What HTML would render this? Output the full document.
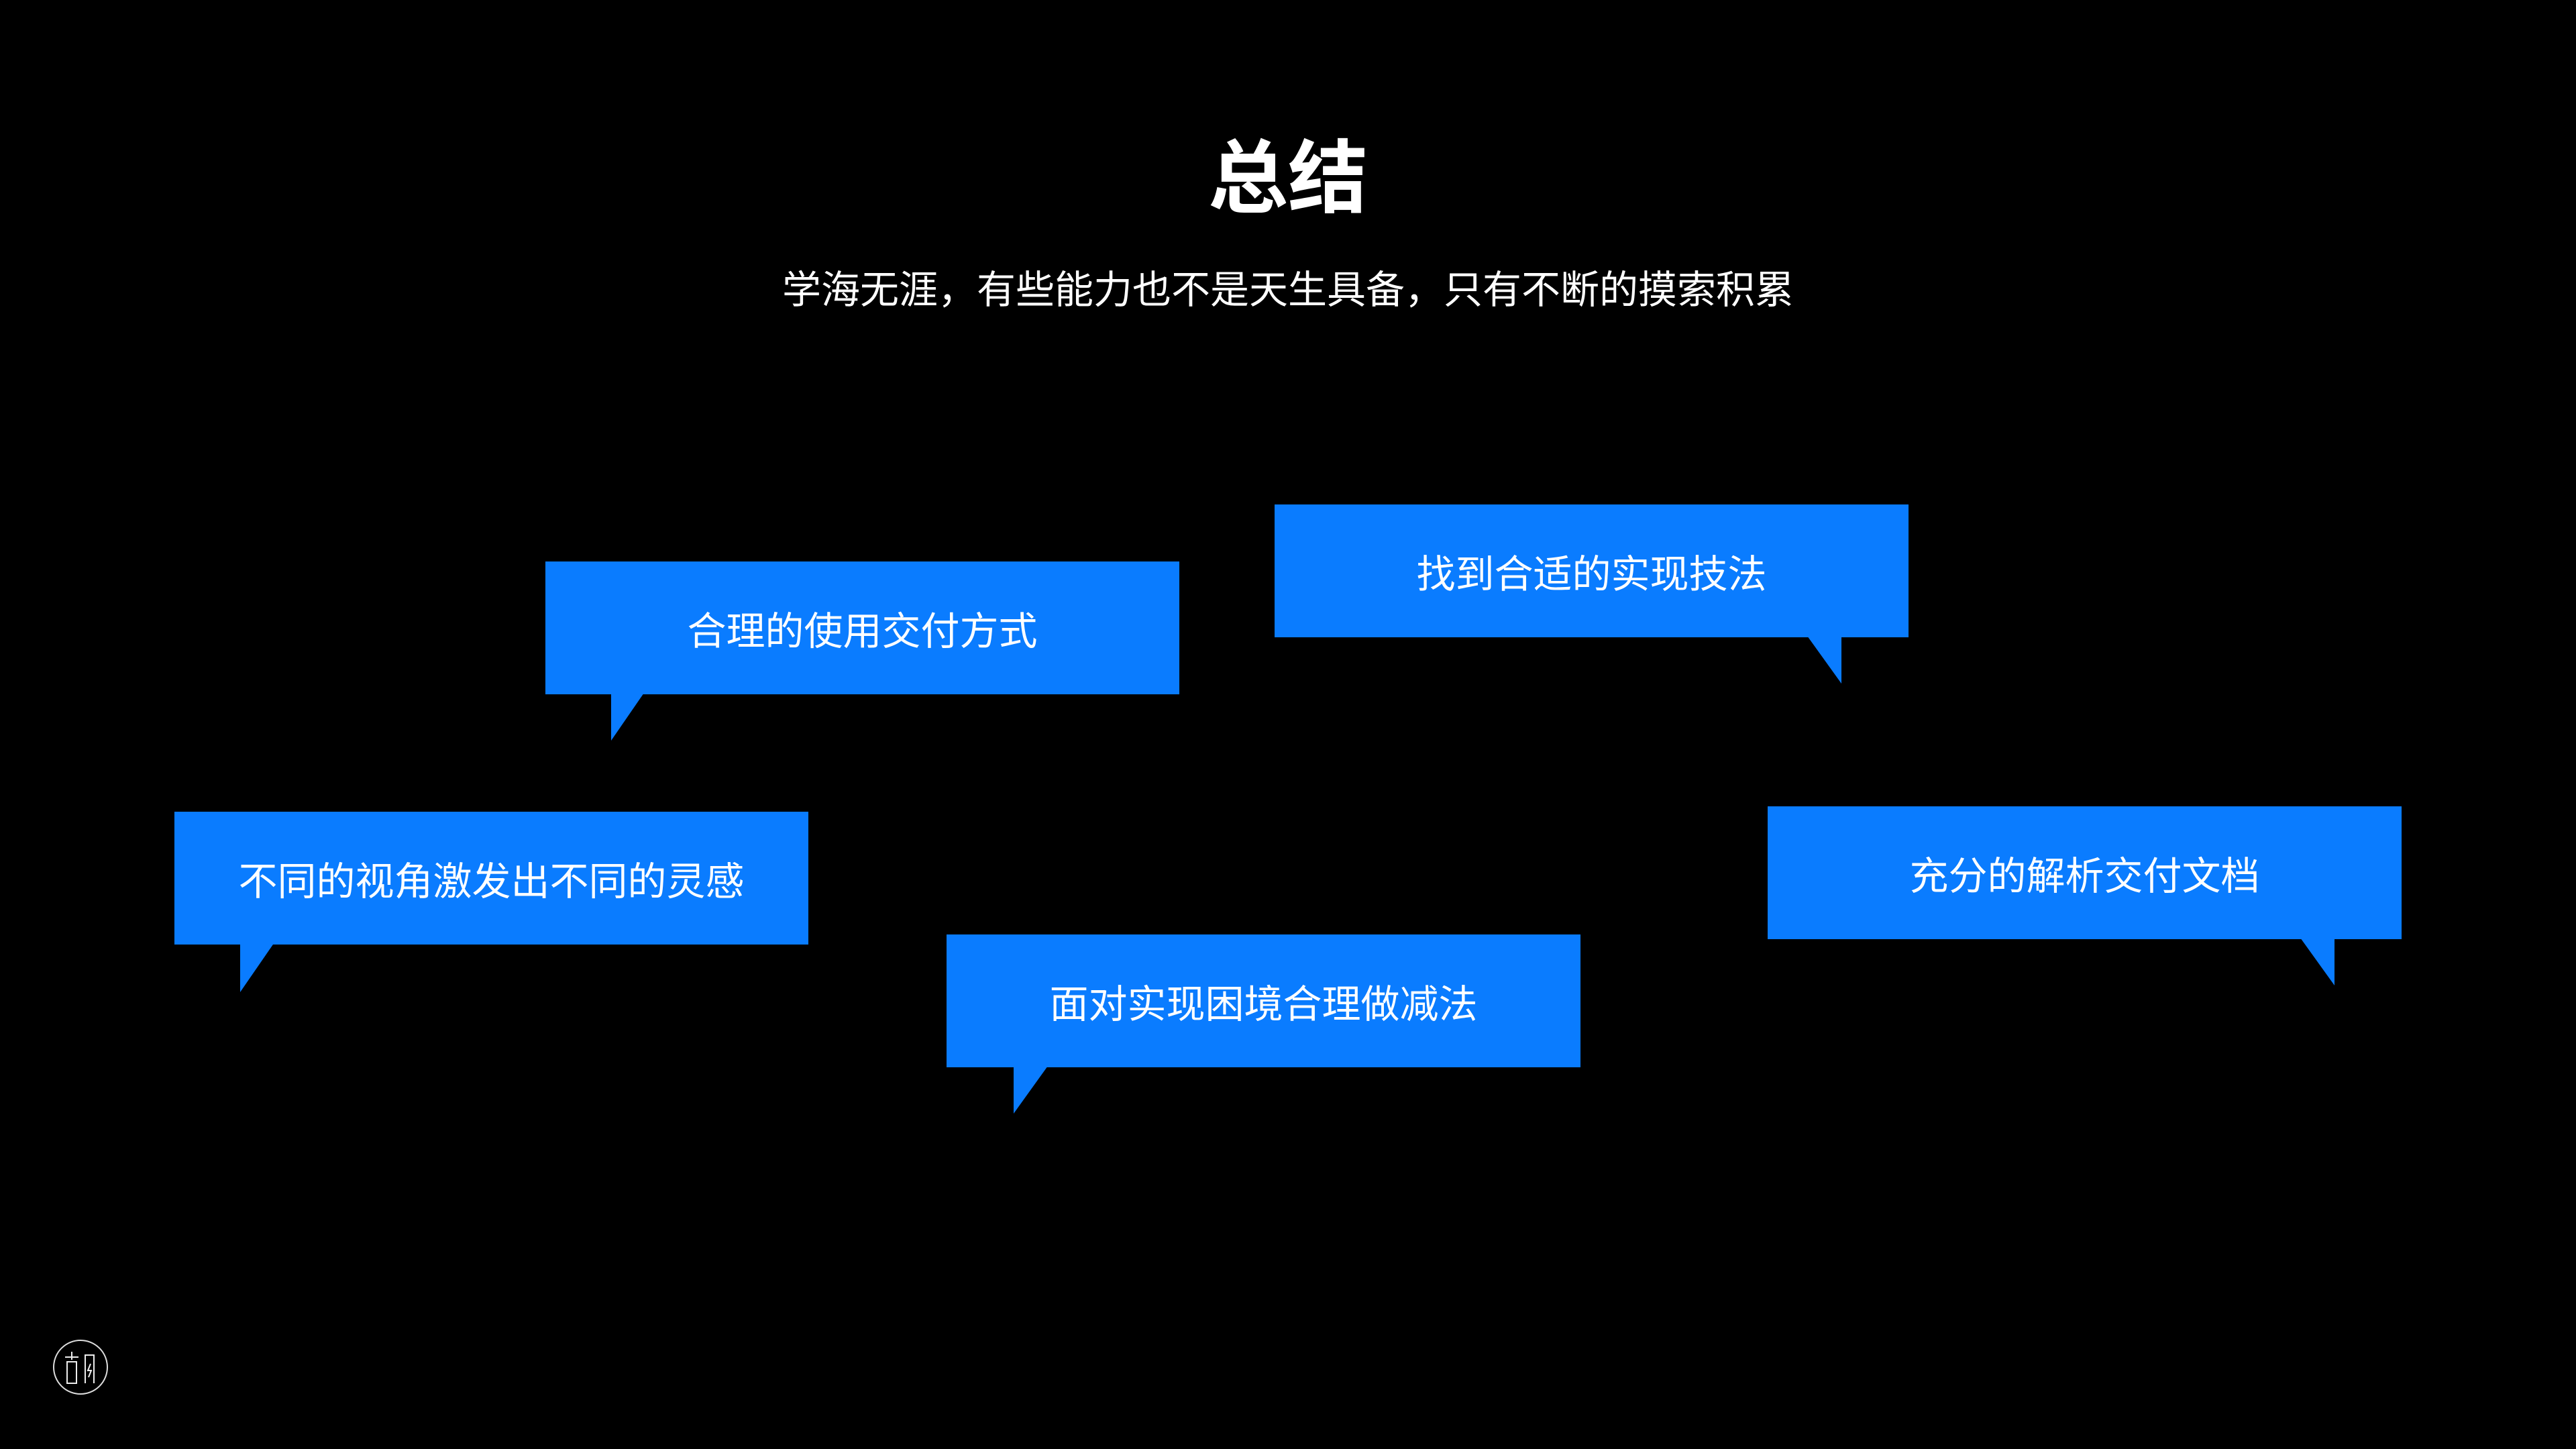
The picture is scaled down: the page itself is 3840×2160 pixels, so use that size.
<!DOCTYPE html>
<html><head><meta charset="utf-8"><style>
html,body{margin:0;padding:0;background:#000;}
body{width:3840px;height:2160px;position:relative;overflow:hidden;font-family:"Liberation Sans","Noto Sans CJK SC",sans-serif;color:#fff;}
.t{position:absolute;left:0;width:3840px;text-align:center;}
.b{position:absolute;width:945px;height:198px;background:#0A7CFF;display:flex;align-items:center;justify-content:center;font-size:58px;color:#fff;}
svg{position:absolute;left:0;top:0;}
</style></head><body>
<div class="t" style="top:192px;font-size:119px;font-weight:bold;line-height:150px;">总结</div>
<div class="t" style="top:396px;font-size:58px;line-height:74px;">学海无涯，有些能力也不是天生具备，只有不断的摸索积累</div>
<svg width="3840" height="2160">
<polygon points="911,1030 962,1030 911,1104" fill="#0A7CFF"/>
<polygon points="2694,948 2745,948 2745,1019" fill="#0A7CFF"/>
<polygon points="358,1405 409,1405 358,1479" fill="#0A7CFF"/>
<polygon points="3429,1398 3480,1398 3480,1469" fill="#0A7CFF"/>
<polygon points="1511,1589 1562,1589 1511,1660" fill="#0A7CFF"/>
<circle cx="120" cy="2038" r="40" fill="none" stroke="#ddd" stroke-width="2"/>
<path d="M97 2023h20M107 2015v12M100 2030h14v32h-14z" fill="none" stroke="#eee" stroke-width="2"/>
<path d="M127 2062v-42h13v42M135 2033l-4 10h5l-4 10" fill="none" stroke="#eee" stroke-width="2"/>
</svg>
<div class="b" style="left:813px;top:837px;">合理的使用交付方式</div>
<div class="b" style="left:1900px;top:752px;">找到合适的实现技法</div>
<div class="b" style="left:260px;top:1210px;">不同的视角激发出不同的灵感</div>
<div class="b" style="left:2635px;top:1202px;">充分的解析交付文档</div>
<div class="b" style="left:1411px;top:1393px;">面对实现困境合理做减法</div>
</body></html>
